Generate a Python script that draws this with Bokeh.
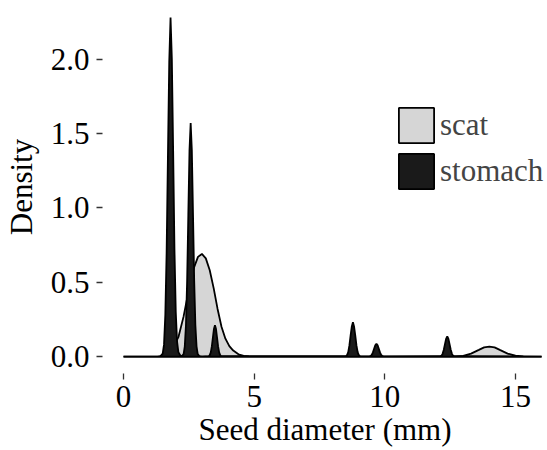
from bokeh.plotting import figure
from bokeh.models import Range1d, FixedTicker, PrintfTickFormatter, Legend, LegendItem
from bokeh.embed import file_html
from bokeh.resources import INLINE

# Density curves (x = seed diameter in mm, y = density)
scat_x = [0.0, 1.3, 1.5, 1.7, 1.9, 2.1, 2.3, 2.5, 2.7, 2.85, 3.0, 3.15, 3.3, 3.45,
          3.6, 3.75, 3.9, 4.05, 4.2, 4.4, 4.6, 4.8, 5.0,
          12.7, 13.0, 13.3, 13.6, 13.8, 14.0, 14.2, 14.4, 14.7, 15.0, 15.3, 15.6, 16.0]
scat_y = [0.0, 0.0, 0.005, 0.02, 0.06, 0.13, 0.27, 0.45, 0.60, 0.67, 0.69, 0.66, 0.58, 0.46,
          0.32, 0.20, 0.12, 0.07, 0.04, 0.015, 0.005, 0.001, 0.0,
          0.0, 0.005, 0.02, 0.045, 0.062, 0.066, 0.062, 0.045, 0.02, 0.006, 0.001, 0.0, 0.0]

stomach_x = [0.0, 1.40, 1.50, 1.55, 1.60, 1.65, 1.70, 1.75, 1.80, 1.85, 1.90, 1.95, 2.00,
             2.05, 2.10, 2.18, 2.25,
             2.30, 2.345, 2.39, 2.435, 2.48, 2.525, 2.57, 2.615, 2.66, 2.705, 2.75, 2.795,
             2.84, 2.90, 3.0,
             3.26, 3.30, 3.34, 3.38, 3.42, 3.46, 3.50, 3.54, 3.58, 3.62, 3.66, 3.70, 3.74,
             8.51, 8.56, 8.60, 8.645, 8.69, 8.735, 8.78, 8.825, 8.87, 8.915, 8.96, 9.00, 9.05,
             9.41, 9.46, 9.50, 9.545, 9.59, 9.635, 9.68, 9.725, 9.77, 9.815, 9.86, 9.90, 9.95,
             12.12, 12.17, 12.21, 12.255, 12.30, 12.345, 12.39, 12.435, 12.48, 12.525, 12.57,
             12.61, 12.66, 16.0]
stomach_y = [0.0, 0.0, 0.02, 0.08, 0.28, 0.70, 1.35, 1.98, 2.28, 2.00, 1.38, 0.72, 0.30,
             0.10, 0.03, 0.005, 0.006,
             0.017, 0.069, 0.212, 0.51, 0.953, 1.385, 1.57, 1.385, 0.953, 0.51, 0.212, 0.069,
             0.017, 0.003, 0.0,
             0.002, 0.01, 0.028, 0.068, 0.128, 0.185, 0.21, 0.185, 0.128, 0.068, 0.028, 0.01, 0.002,
             0.003, 0.011, 0.03, 0.075, 0.14, 0.20, 0.23, 0.20, 0.14, 0.075, 0.03, 0.011, 0.003,
             0.001, 0.004, 0.011, 0.028, 0.052, 0.075, 0.086, 0.075, 0.052, 0.028, 0.011, 0.004, 0.001,
             0.002, 0.006, 0.018, 0.044, 0.082, 0.119, 0.135, 0.119, 0.082, 0.044, 0.018,
             0.006, 0.002, 0.0]

series_names = ["scat", "stomach"]
x_ticks = [0, 5, 10, 15]
y_ticks = [0.0, 0.5, 1.0, 1.5, 2.0]

FONT = "Liberation Serif"

p = figure(width=547, height=450, output_backend="svg", toolbar_location=None,
           x_range=Range1d(-0.804, 16.226), y_range=Range1d(-0.114, 2.394),
           min_border_left=102, min_border_right=0, min_border_top=0, min_border_bottom=77)
p.outline_line_color = None
p.grid.visible = False
p.background_fill_color = "white"

r_scat = p.patch(scat_x, scat_y, fill_color="#d6d6d6", line_color="black", line_width=1.8)
r_stom = p.patch(stomach_x, stomach_y, fill_color="#1a1a1a", line_color="black", line_width=1.8)

for ax in (p.xaxis[0], p.yaxis[0]):
    ax.axis_line_color = None
    ax.major_tick_line_color = "#333333"
    ax.major_tick_line_width = 1.3
    ax.major_tick_in = 0
    ax.minor_tick_line_color = None
    ax.major_label_text_font = FONT
    ax.major_label_text_font_size = "31px"
    ax.major_label_text_color = "black"
    ax.axis_label_text_font = FONT
    ax.axis_label_text_font_size = "31px"
    ax.axis_label_text_font_style = "normal"
    ax.axis_label_text_color = "black"

p.xaxis.ticker = FixedTicker(ticks=x_ticks)
p.yaxis.ticker = FixedTicker(ticks=y_ticks)
p.yaxis.formatter = PrintfTickFormatter(format="%.1f")
p.xaxis.major_tick_out = 6
p.yaxis.major_tick_out = 6
p.xaxis.major_label_standoff = 6
p.yaxis.major_label_standoff = 7
p.xaxis.axis_label = "Seed diameter (mm)"
p.yaxis.axis_label = "Density"
p.xaxis.axis_label_standoff = 2
p.yaxis.axis_label_standoff = 9

legend = Legend(items=[LegendItem(label=series_names[0], renderers=[r_scat]),
                       LegendItem(label=series_names[1], renderers=[r_stom])],
                location=(292, 180), orientation="vertical",
                glyph_width=44, glyph_height=44, label_standoff=2, spacing=2,
                padding=0, margin=0, border_line_color=None, background_fill_alpha=0,
                label_text_font=FONT, label_text_font_size="31px", label_height=44)
p.add_layout(legend, "center")

open("out.html", "w").write(file_html(p, INLINE))
